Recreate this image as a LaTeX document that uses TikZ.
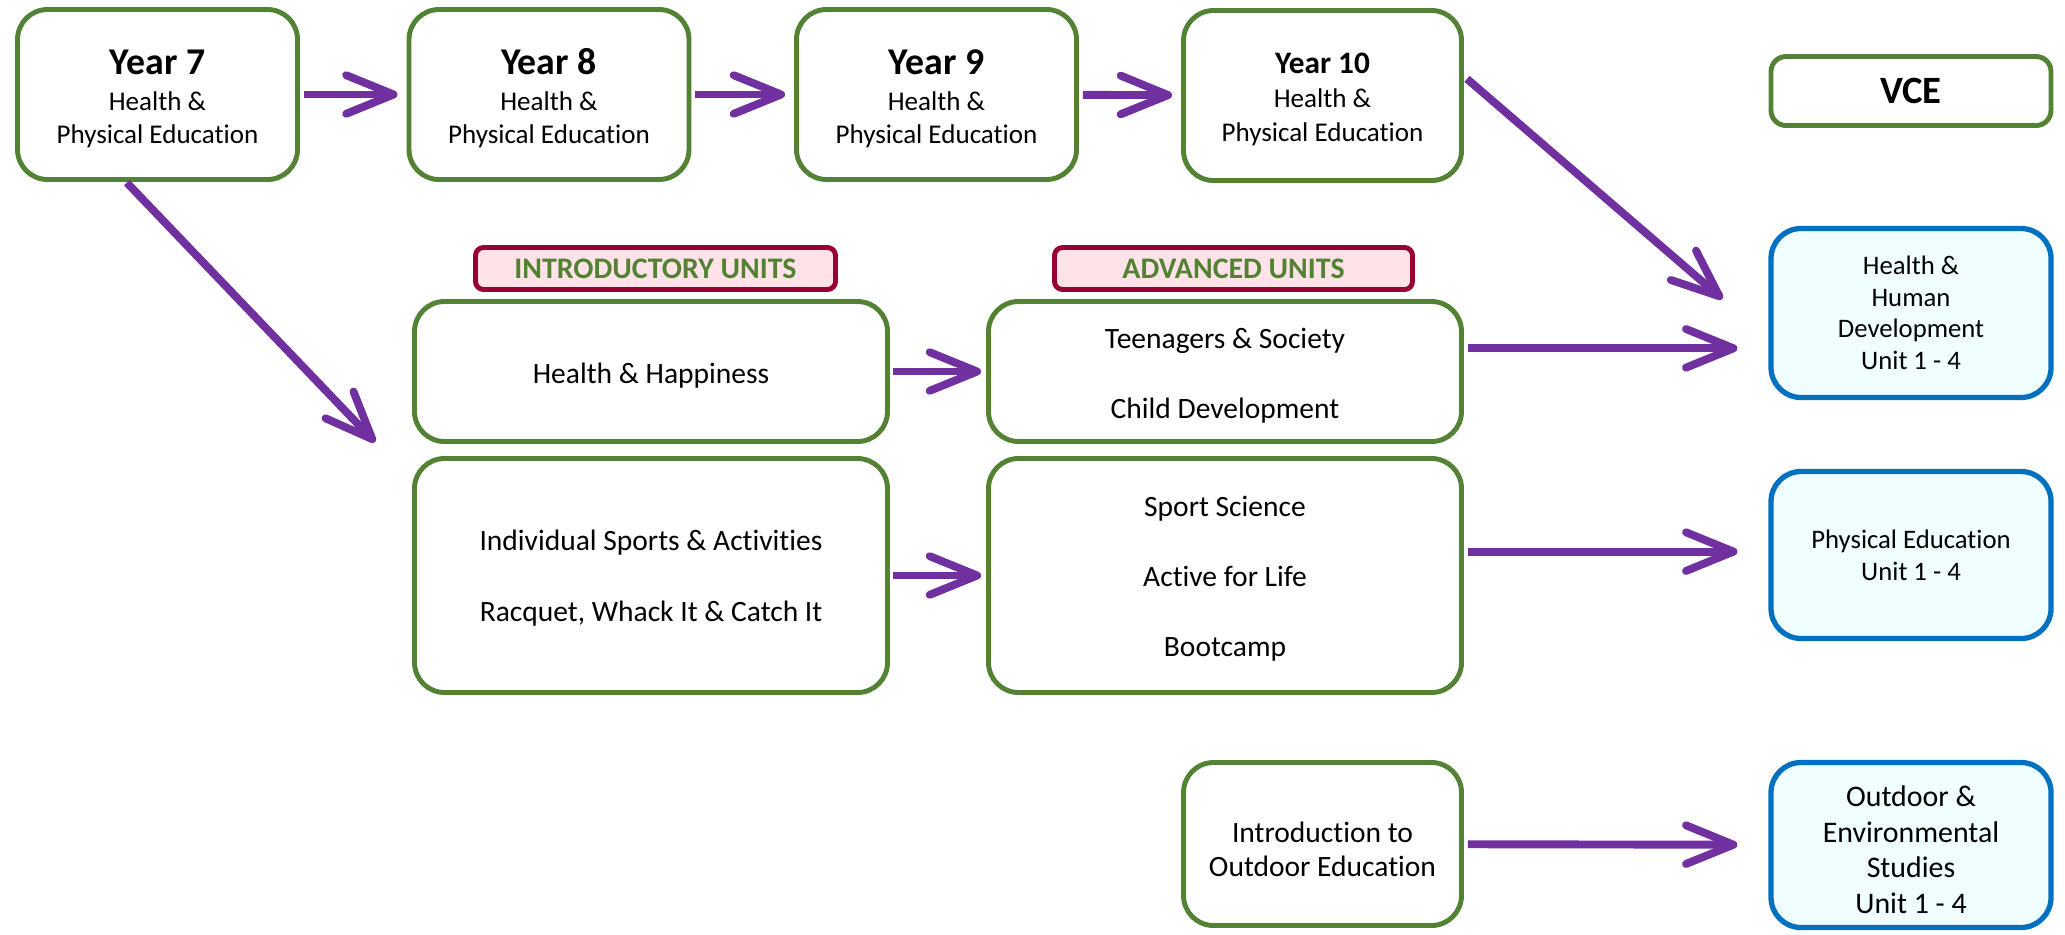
\documentclass[tikz,border=0pt]{standalone}
\usepackage{fontspec}
\setmainfont{Carlito}[Ligatures=NoCommon]
\usetikzlibrary{arrows.meta,calc}
\definecolor{grn}{HTML}{548235}
\definecolor{blu}{HTML}{0070C0}
\definecolor{bfill}{HTML}{F0FEFF}
\definecolor{prp}{HTML}{7030A0}
\definecolor{crim}{HTML}{990033}
\definecolor{pinkfill}{HTML}{FFE3E8}
\newcommand\topstrut[1]{\rule{0pt}{#1}}
\begin{document}
\begin{tikzpicture}[x=0.02cm,y=-0.02cm,
  sz/.style 2 args={minimum width=#1*0.02cm, minimum height=#2*0.02cm},
  gbox/.style={draw=grn, line width=2.8pt, rounded corners=0.6cm, fill=white, align=center,
    inner sep=0pt, font=\fontsize{15.4}{19}\selectfont},
  mbox/.style={gbox, font=\fontsize{16.8}{20}\selectfont},
  bbox/.style={draw=blu, line width=3pt, rounded corners=0.6cm, fill=bfill, align=center,
    inner sep=0pt, font=\fontsize{15.2}{18}\selectfont},
  lbl/.style={draw=crim, line width=2.8pt, rounded corners=0.16cm, fill=pinkfill, align=center,
    inner sep=0pt, text=grn, font=\fontsize{17}{20}\selectfont\bfseries},
  arr/.style={draw=prp, line width=4.5pt,
    -{Straight Barb[length=27pt, width=22pt, round]}},
  yr/.style={font=\fontsize{22}{24}\selectfont\bfseries}
]
\useasboundingbox (0,0) rectangle (2065,934);

% Year boxes
\node[gbox, sz={280}{170}] (y7) at (157.5,94.5)
  {\topstrut{19pt}{\fontsize{21.5}{24}\selectfont\bfseries Year 7}\\[1.5pt] Health \&\\ Physical Education};
\node[gbox, sz={280}{170}] (y8) at (549,94.5)
  {\topstrut{19pt}{\fontsize{21.5}{24}\selectfont\bfseries Year 8}\\[1.5pt] Health \&\\ Physical Education};
\node[gbox, sz={280}{170}] (y9) at (936.5,94.5)
  {\topstrut{19pt}{\fontsize{21.5}{24}\selectfont\bfseries Year 9}\\[1.5pt] Health \&\\ Physical Education};
\node[gbox, sz={278}{170}] (y10) at (1322.5,95.5)
  {\topstrut{16pt}{\fontsize{17.8}{21}\selectfont\bfseries Year 10}\\[0.5pt] Health \&\\ Physical Education};

% VCE
\node[gbox, sz={280}{69}, rounded corners=0.3cm, yr] (vce) at (1911,91) {VCE};

% Labels
\node[lbl, sz={360}{42}] (intro) at (655.5,268.5) {INTRODUCTORY UNITS};
\node[lbl, sz={358}{42}] (adv) at (1233.5,268.5) {ADVANCED UNITS};

% Middle boxes
\node[mbox, sz={473}{140}] (hh) at (651,371.5) {\topstrut{16pt}Health \& Happiness};
\node[mbox, sz={473}{140}] (teens) at (1225,371.5) {\topstrut{16pt}Teenagers \& Society\\[20pt] Child Development};
\node[mbox, sz={473}{234}] (indiv) at (651,575.5) {\topstrut{14.5pt}Individual Sports \& Activities\\[20pt] Racquet, Whack It \& Catch It};
\node[mbox, sz={473}{234}] (sport) at (1225,575.5) {\topstrut{15pt}Sport Science\\[20pt] Active for Life\\[20pt] Bootcamp};
\node[mbox, sz={278}{163}, font=\fontsize{16.8}{19.5}\selectfont] (io) at (1322.5,844) {\topstrut{17.6pt}Introduction to\\ Outdoor Education};

% VCE subjects
\node[bbox, sz={280}{169}] (hhd) at (1911,313) {Health \&\\ Human\\ Development\\ Unit 1 - 4};
\node[bbox, sz={280}{167}] (pe) at (1911,555) {Physical Education\\ Unit 1 - 4};
\node[bbox, sz={280}{165}, font=\fontsize{17}{20.2}\selectfont] (oes) at (1911,845) {\topstrut{17pt}Outdoor \&\\ Environmental\\ Studies\\ Unit 1 - 4};

% Arrows
\draw[arr, shorten <=4*0.02cm, shorten >=9*0.02cm] (y7) -- (y8);
\draw[arr, shorten <=4*0.02cm, shorten >=9*0.02cm] (y8) -- (y9);
\draw[arr, shorten <=4*0.02cm, shorten >=9*0.02cm] (y9) -- (y10);
\draw[arr, shorten <=3*0.02cm, shorten >=5*0.02cm] (hh) -- (teens);
\draw[arr, shorten <=3*0.02cm, shorten >=5*0.02cm] (indiv) -- (sport);

\coordinate (tA) at ($(teens.north east)!0.34!(teens.south east)$);
\draw[arr, shorten <=4*0.02cm, shorten >=31*0.02cm] (tA) -- (tA -| hhd.west);
\coordinate (sA) at ($(sport.north east)!0.40!(sport.south east)$);
\draw[arr, shorten <=4*0.02cm, shorten >=31*0.02cm] (sA) -- (sA -| pe.west);
\draw[arr, shorten <=4*0.02cm, shorten >=31*0.02cm] (io) -- (oes);

\coordinate (dA) at ($(y10.north east)!0.39!(y10.south east)$);
\coordinate (dB) at ($(hhd.north west)+(-46,73)$);
\draw[arr, shorten <=4*0.02cm] (dA) -- (dB);

\coordinate (eA) at ($(y7.south west)!0.39!(y7.south east)$);
\coordinate (eB) at ($(indiv.north west)+(-37,-14)$);
\draw[arr, shorten <=1*0.02cm] (eA) -- (eB);
\end{tikzpicture}
\end{document}
